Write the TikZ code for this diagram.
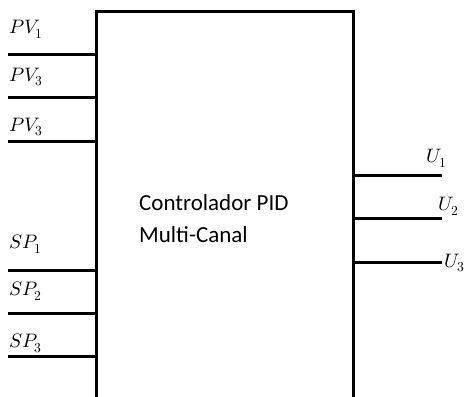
\documentclass[tikz,border=0pt]{standalone}
\usepackage{fontspec}
\usepackage{unicode-math}
\setmainfont{Carlito}
\setmathfont{Latin Modern Math}
\begin{document}
\begin{tikzpicture}[x=1pt,y=-1pt,
  wire/.style={line width=3pt},
  boxline/.style={line width=3pt},
  lbl/.style={inner sep=0pt,font=\fontsize{19.5}{19.5}\selectfont},
  title/.style={inner sep=0pt,align=left,font=\fontsize{23}{32}\selectfont}]
\useasboundingbox (0,0) rectangle (468,396);
% box (open at the bottom)
\coordinate (bl) at (96,397);
\coordinate (tl) at (96,12);
\coordinate (tr) at (353,12);
\coordinate (br) at (353,397);
\draw[boxline] (bl) -- (tl) -- (tr) -- (br);
\node[title,anchor=west] (t) at (139,219) {Controlador PID\\Multi-Canal};
% inputs
\foreach \n/\y in {pa/55,pb/97,pc/141,sa/270,sb/313,sc/356}{
  \coordinate (\n s) at (8,\y);
  \coordinate (\n e) at (96,\y);
  \draw[wire] (\n s) -- (\n e);
}
\node[lbl,anchor=west] (lpa) at (9,29) {$PV_1$};
\node[lbl,anchor=west] (lpb) at (9,77) {$PV_3$};
\node[lbl,anchor=west] (lpc) at (9,127) {$PV_3$};
\node[lbl,anchor=west] (lsa) at (9,244) {$SP_1$};
\node[lbl,anchor=west] (lsb) at (9,291) {$SP_2$};
\node[lbl,anchor=west] (lsc) at (9,343) {$SP_3$};
% outputs
\foreach \n/\y in {ua/175,ub/218,uc/262}{
  \coordinate (\n s) at (353,\y);
  \coordinate (\n e) at (442,\y);
  \draw[wire] (\n s) -- (\n e);
}
\node[lbl,anchor=west] (lua) at (426,158) {$U_1$};
\node[lbl,anchor=west] (lub) at (438,206) {$U_2$};
\node[lbl,anchor=west] (luc) at (444,263) {$U_3$};
\end{tikzpicture}
\end{document}
